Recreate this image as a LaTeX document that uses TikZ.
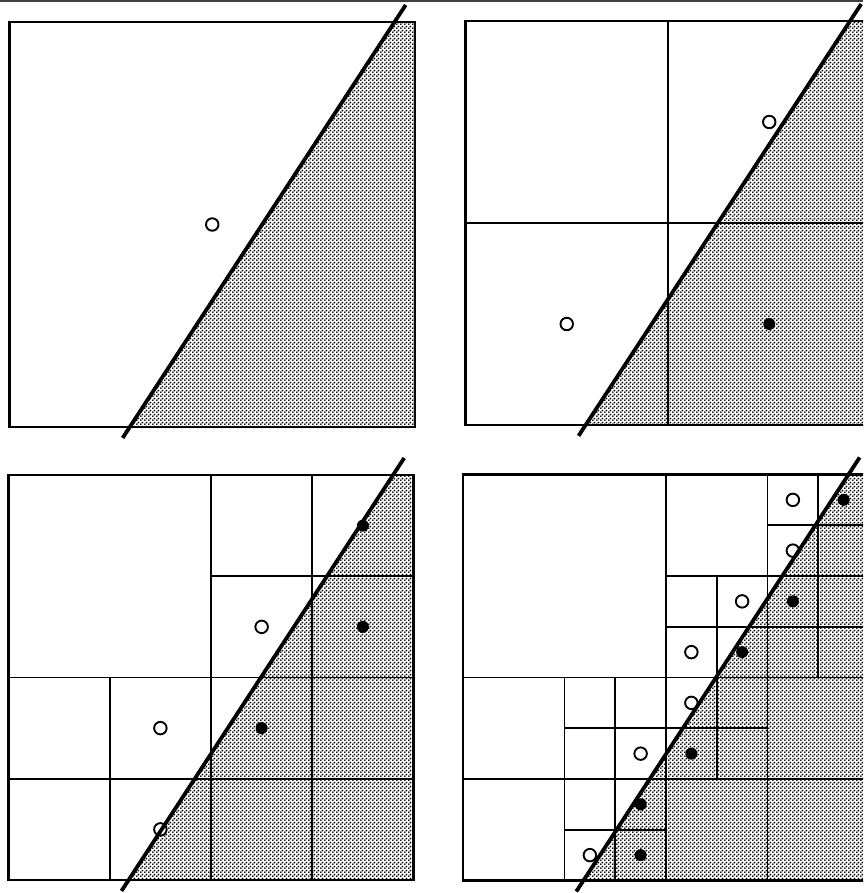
\documentclass[tikz,border=0pt]{standalone}
\usetikzlibrary{patterns}
\pgfdeclarepatternformonly{stipple}{\pgfpoint{0pt}{0pt}}{\pgfpoint{4pt}{4pt}}{\pgfpoint{4pt}{4pt}}{%
  \pgfpathcircle{\pgfpoint{1pt}{1pt}}{1.2pt}%
  \pgfpathcircle{\pgfpoint{3pt}{3pt}}{1.2pt}%
  \pgfusepath{fill}}
\newcommand\pShade{\fill[shade] (0.297,0) -- (1,0) -- (1,1) -- (0.95,1) -- cycle;}
\newcommand\pCut{\draw[cut] (0.279,-0.027) -- (0.977,1.042);}
\newcommand\pBox{\draw[box] (0,0) rectangle (1,1);}
\begin{document}
\begin{tikzpicture}[x=1pt,y=1pt,
  box/.style={line width=2.2pt},
  gridline/.style={line width=1.9pt},
  cut/.style={line width=3.8pt},
  shade/.style={pattern=stipple, pattern color=black},
  odot/.style={circle, draw, fill=white, line width=1.9pt, minimum size=12.5pt, inner sep=0pt},
  fdot/.style={circle, fill=black, minimum size=12pt, inner sep=0pt}]
\useasboundingbox (0,0) rectangle (863,893);
\clip (0,0) rectangle (863,893);
\draw[line width=2pt, black!75] (0,892) -- (863,892);

% Panel 1
\begin{scope}[shift={(9.5,466)}, x=405.5pt, y=405pt]
  \pShade
  \pBox
  \node[odot] (a1) at (0.5,0.5) {};
  \pCut
\end{scope}

% Panel 2
\begin{scope}[shift={(465.5,468)}, x=405pt, y=404pt]
  \pShade
  \draw[gridline] (0.5,0) -- (0.5,1) (0,0.5) -- (1,0.5);
  \pBox
  \node[odot] (b1) at (0.75,0.75) {};
  \node[odot] (b2) at (0.25,0.25) {};
  \node[fdot] (b3) at (0.75,0.25) {};
  \pCut
\end{scope}

% Panel 3
\begin{scope}[shift={(8.5,13)}, x=405pt, y=405pt]
  \pShade
  \draw[gridline] (0.5,0) -- (0.5,1) (0,0.5) -- (1,0.5)
     (0.75,0) -- (0.75,1) (0,0.25) -- (1,0.25)
     (0.5,0.75) -- (1,0.75) (0.25,0) -- (0.25,0.5);
  \pBox
  \node[odot] (c1) at (0.625,0.625) {};
  \node[odot] (c2) at (0.375,0.375) {};
  \node[odot] (c3) at (0.375,0.125) {};
  \node[fdot] (c4) at (0.875,0.875) {};
  \node[fdot] (c5) at (0.875,0.625) {};
  \node[fdot] (c6) at (0.625,0.375) {};
  \pCut
\end{scope}

% Panel 4
\begin{scope}[shift={(463,12.5)}, x=406pt, y=406pt]
  \pShade
  \draw[gridline] (0.5,0) -- (0.5,1) (0,0.5) -- (1,0.5)
     (0.75,0) -- (0.75,1) (0,0.25) -- (1,0.25) (0.5,0.75) -- (1,0.75)
     (0.875,0.5) -- (0.875,1) (0.75,0.875) -- (1,0.875) (0.5,0.625) -- (1,0.625)
     (0.625,0.25) -- (0.625,0.75) (0.25,0.375) -- (0.75,0.375)
     (0.25,0) -- (0.25,0.5) (0.375,0) -- (0.375,0.5) (0.25,0.125) -- (0.5,0.125);
  \pBox
  \node[odot] (d1) at (0.8125,0.9375) {};
  \node[odot] (d2) at (0.8125,0.8125) {};
  \node[odot] (d3) at (0.6875,0.6875) {};
  \node[odot] (d4) at (0.5625,0.5625) {};
  \node[odot] (d5) at (0.5625,0.4375) {};
  \node[odot] (d6) at (0.4375,0.3125) {};
  \node[odot] (d7) at (0.3125,0.0625) {};
  \node[fdot] (d8) at (0.9375,0.9375) {};
  \node[fdot] (d9) at (0.8125,0.6875) {};
  \node[fdot] (d10) at (0.6875,0.5625) {};
  \node[fdot] (d11) at (0.5625,0.3125) {};
  \node[fdot] (d12) at (0.4375,0.1875) {};
  \node[fdot] (d13) at (0.4375,0.0625) {};
  \pCut
\end{scope}
\end{tikzpicture}
\end{document}
